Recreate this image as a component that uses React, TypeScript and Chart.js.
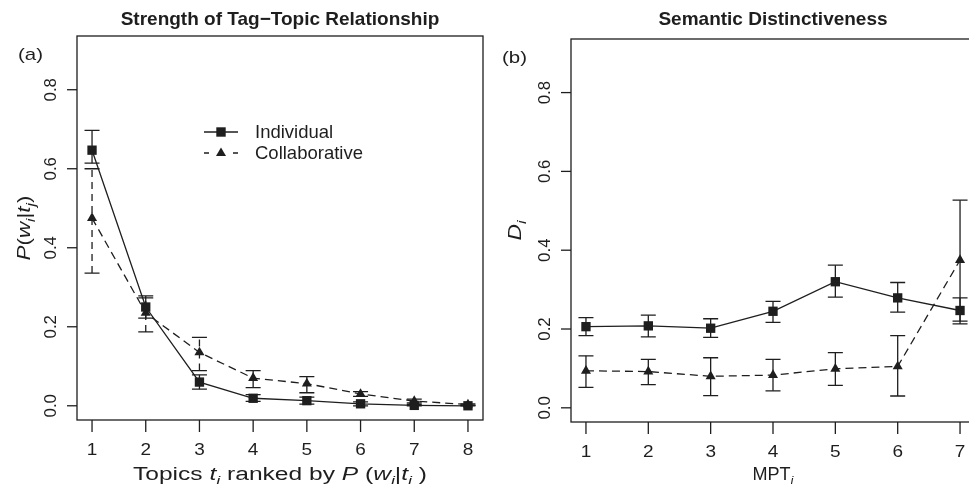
import React, { useEffect, useRef } from "react";
import { Chart, registerables } from "chart.js";

Chart.register(...registerables);

// ---------- Data ----------
const topicRanks = [1, 2, 3, 4, 5, 6, 7, 8];
const indivStrength = [0.647, 0.25, 0.06, 0.019, 0.013, 0.005, 0.001, 0.0];
const indivStrengthLo = [0.614, 0.222, 0.042, 0.011, 0.004, 0.0, 0.0, 0.0];
const indivStrengthHi = [0.697, 0.278, 0.078, 0.028, 0.022, 0.01, 0.003, 0.001];
const collabStrength = [0.475, 0.235, 0.135, 0.07, 0.056, 0.03, 0.012, 0.003];
const collabStrengthLo = [0.336, 0.187, 0.089, 0.046, 0.033, 0.024, 0.007, 0.001];
const collabStrengthHi = [0.6, 0.273, 0.173, 0.089, 0.074, 0.036, 0.017, 0.005];

const mptLevels = [1, 2, 3, 4, 5, 6, 7];
const indivDistinct = [0.206, 0.208, 0.202, 0.245, 0.32, 0.279, 0.247];
const indivDistinctLo = [0.183, 0.18, 0.179, 0.217, 0.281, 0.243, 0.22];
const indivDistinctHi = [0.229, 0.235, 0.226, 0.27, 0.362, 0.318, 0.279];
const collabDistinct = [0.094, 0.092, 0.08, 0.083, 0.099, 0.105, 0.375];
const collabDistinctLo = [0.052, 0.059, 0.031, 0.043, 0.057, 0.03, 0.213];
const collabDistinctHi = [0.132, 0.123, 0.127, 0.123, 0.14, 0.183, 0.527];

const yTickValues = [0.0, 0.2, 0.4, 0.6, 0.8];
const yTickLabels = ["0.0", "0.2", "0.4", "0.6", "0.8"];
const seriesNames = ["Individual", "Collaborative"];

const FONT = '"Liberation Sans", Arial, Helvetica, sans-serif';
const INK = "#1e1e1e";

type Seg = { t: string; it?: boolean; sub?: boolean };

function drawRich(
  ctx: CanvasRenderingContext2D,
  segs: Seg[],
  cx: number,
  cy: number,
  size: number,
  rotate: boolean,
  target?: number,
  sx?: number
) {
  ctx.save();
  ctx.translate(cx, cy);
  if (rotate) ctx.rotate(-Math.PI / 2);
  const fontFor = (s: Seg) =>
    `${s.it ? "italic " : ""}${s.sub ? Math.round(size * 0.72) : size}px ${FONT}`;
  let total = 0;
  const widths = segs.map((s) => {
    ctx.font = fontFor(s);
    const w = ctx.measureText(s.t).width;
    total += w;
    return w;
  });
  const k = target ? target / total : sx || 1;
  ctx.scale(k, 1);
  let x = -total / 2;
  ctx.textAlign = "left";
  ctx.textBaseline = "alphabetic";
  ctx.fillStyle = INK;
  const base = size * 0.358;
  segs.forEach((s, i) => {
    ctx.font = fontFor(s);
    ctx.fillText(s.t, x, base + (s.sub ? size * 0.28 : 0));
    x += widths[i];
  });
  ctx.restore();
}

type PanelCfg = {
  title: string;
  letter: string;
  xs: number[];
  xMin: number;
  xMax: number;
  indiv: number[];
  indivLo: number[];
  indivHi: number[];
  collab: number[];
  collabLo: number[];
  collabHi: number[];
  collabErrDash: number[];
  xLabel: Seg[];
  xLabelWidth: number;
  yLabel: Seg[];
  yLabelWidth: number;
  yLabelOffset: number;
  legend: boolean;
  padding: { left: number; right: number; top: number; bottom: number };
};

function makePlugin(cfg: PanelCfg) {
  return {
    id: "rstyle",
    beforeDatasetsDraw(chart: any) {
      const ctx: CanvasRenderingContext2D = chart.ctx;
      const xs = chart.scales.x;
      const ys = chart.scales.y;
      const bars = [
        { lo: cfg.indivLo, hi: cfg.indivHi, dash: [] as number[] },
        { lo: cfg.collabLo, hi: cfg.collabHi, dash: cfg.collabErrDash },
      ];
      ctx.save();
      ctx.strokeStyle = INK;
      ctx.lineWidth = 1.3;
      bars.forEach((b) => {
        cfg.xs.forEach((xv, i) => {
          const px = xs.getPixelForValue(xv);
          const pLo = ys.getPixelForValue(b.lo[i]);
          const pHi = ys.getPixelForValue(b.hi[i]);
          ctx.setLineDash(b.dash);
          ctx.beginPath();
          ctx.moveTo(px, pLo);
          ctx.lineTo(px, pHi);
          ctx.stroke();
          ctx.setLineDash([]);
          ctx.beginPath();
          ctx.moveTo(px - 7.5, pLo);
          ctx.lineTo(px + 7.5, pLo);
          ctx.moveTo(px - 7.5, pHi);
          ctx.lineTo(px + 7.5, pHi);
          ctx.stroke();
        });
      });
      ctx.restore();
    },
    afterDraw(chart: any) {
      const ctx: CanvasRenderingContext2D = chart.ctx;
      const a = chart.chartArea;
      const xs = chart.scales.x;
      const ys = chart.scales.y;
      ctx.save();
      ctx.strokeStyle = INK;
      ctx.fillStyle = INK;
      ctx.lineWidth = 1.3;
      // box
      ctx.strokeRect(a.left, a.top, a.right - a.left, a.bottom - a.top);
      // y ticks
      yTickValues.forEach((v, i) => {
        const py = ys.getPixelForValue(v);
        ctx.beginPath();
        ctx.moveTo(a.left - 10, py);
        ctx.lineTo(a.left, py);
        ctx.stroke();
        drawRich(ctx, [{ t: yTickLabels[i] }], a.left - 27, py, 16, true, undefined, 1.05);
      });
      // x ticks
      cfg.xs.forEach((v) => {
        const px = xs.getPixelForValue(v);
        ctx.beginPath();
        ctx.moveTo(px, a.bottom);
        ctx.lineTo(px, a.bottom + 12);
        ctx.stroke();
        drawRich(ctx, [{ t: String(v) }], px, a.bottom + 29, 16.5, false, undefined, 1.15);
      });
      const cx = (a.left + a.right) / 2;
      const cy = (a.top + a.bottom) / 2;
      // title
      ctx.save();
      ctx.font = `bold 19px ${FONT}`;
      ctx.textAlign = "center";
      ctx.textBaseline = "middle";
      ctx.fillText(cfg.title, cx, 20);
      ctx.restore();
      // axis labels
      drawRich(ctx, cfg.xLabel, cx, 474, 18, false, cfg.xLabelWidth);
      drawRich(ctx, cfg.yLabel, a.left - cfg.yLabelOffset, cy, 18.5, true, cfg.yLabelWidth);
      // panel letter
      drawRich(ctx, [{ t: cfg.letter }], 30.5, a.top + 18, 17, false, 25);
      // legend
      if (cfg.legend) {
        const rows = [
          { y: 132, style: "rect", name: seriesNames[0] },
          { y: 153, style: "triangle", name: seriesNames[1] },
        ];
        rows.forEach((r) => {
          ctx.beginPath();
          if (r.style === "rect") {
            ctx.moveTo(204, r.y);
            ctx.lineTo(238, r.y);
            ctx.stroke();
            ctx.fillRect(221 - 4.7, r.y - 4.7, 9.4, 9.4);
          } else {
            ctx.moveTo(204, r.y);
            ctx.lineTo(209, r.y);
            ctx.moveTo(233, r.y);
            ctx.lineTo(238, r.y);
            ctx.stroke();
            ctx.beginPath();
            ctx.moveTo(221, r.y - 5.5);
            ctx.lineTo(226, r.y + 3);
            ctx.lineTo(216, r.y + 3);
            ctx.closePath();
            ctx.fill();
          }
          ctx.font = `18.5px ${FONT}`;
          ctx.textAlign = "left";
          ctx.textBaseline = "middle";
          ctx.fillText(r.name, 255, r.y + 1);
        });
      }
      ctx.restore();
    },
  };
}

function Panel({ cfg, left, width }: { cfg: PanelCfg; left: number; width: number }) {
  const ref = useRef<HTMLCanvasElement>(null);
  useEffect(() => {
    const chart = new Chart(ref.current as HTMLCanvasElement, {
      type: "line",
      data: {
        datasets: [
          {
            label: seriesNames[0],
            data: cfg.xs.map((x, i) => ({ x, y: cfg.indiv[i] })),
            borderColor: INK,
            backgroundColor: INK,
            borderWidth: 1.3,
            pointStyle: "rect",
            pointRadius: 6.6,
            pointBackgroundColor: INK,
            pointBorderWidth: 0,
            clip: false,
          } as any,
          {
            label: seriesNames[1],
            data: cfg.xs.map((x, i) => ({ x, y: cfg.collab[i] })),
            borderColor: INK,
            backgroundColor: INK,
            borderWidth: 1.3,
            borderDash: [8, 5],
            pointStyle: "triangle",
            pointRadius: 5.8,
            pointBackgroundColor: INK,
            pointBorderWidth: 0,
            clip: false,
          } as any,
        ],
      },
      options: {
        animation: false,
        responsive: false,
        events: [],
        layout: { padding: cfg.padding },
        plugins: { legend: { display: false }, tooltip: { enabled: false } },
        scales: {
          x: { type: "linear", display: false, min: cfg.xMin, max: cfg.xMax },
          y: { type: "linear", display: false, min: -0.036, max: 0.936 },
        },
      },
      plugins: [makePlugin(cfg)],
    });
    return () => chart.destroy();
  }, []);
  return (
    <canvas
      ref={ref}
      width={width}
      height={484}
      style={{ position: "absolute", left, top: 0, display: "block" }}
    />
  );
}

const leftCfg: PanelCfg = {
  title: "Strength of Tag\u2212Topic Relationship",
  letter: "(a)",
  xs: topicRanks,
  xMin: 0.72,
  xMax: 8.28,
  indiv: indivStrength,
  indivLo: indivStrengthLo,
  indivHi: indivStrengthHi,
  collab: collabStrength,
  collabLo: collabStrengthLo,
  collabHi: collabStrengthHi,
  collabErrDash: [7, 5],
  xLabel: [
    { t: "Topics " },
    { t: "t", it: true },
    { t: "i", it: true, sub: true },
    { t: " ranked by " },
    { t: "P", it: true },
    { t: " (" },
    { t: "w", it: true },
    { t: "i", it: true, sub: true },
    { t: "|" },
    { t: "t", it: true },
    { t: "i", it: true, sub: true },
    { t: " )" },
  ],
  xLabelWidth: 294,
  yLabel: [
    { t: "P", it: true },
    { t: "(" },
    { t: "w", it: true },
    { t: "i", it: true, sub: true },
    { t: "|" },
    { t: "t", it: true },
    { t: "j", it: true, sub: true },
    { t: ")" },
  ],
  yLabelWidth: 65,
  yLabelOffset: 54,
  legend: true,
  padding: { left: 77, right: 7, top: 36, bottom: 64 },
};

const rightCfg: PanelCfg = {
  title: "Semantic Distinctiveness",
  letter: "(b)",
  xs: mptLevels,
  xMin: 0.76,
  xMax: 7.24,
  indiv: indivDistinct,
  indivLo: indivDistinctLo,
  indivHi: indivDistinctHi,
  collab: collabDistinct,
  collabLo: collabDistinctLo,
  collabHi: collabDistinctHi,
  collabErrDash: [],
  xLabel: [{ t: "MPT" }, { t: "i", it: true, sub: true }],
  xLabelWidth: 41,
  yLabel: [{ t: "D", it: true }, { t: "i", it: true, sub: true }],
  yLabelWidth: 20,
  yLabelOffset: 57,
  legend: false,
  padding: { left: 87, right: 9, top: 39, bottom: 62 },
};

export default function App() {
  useEffect(() => {
    document.body.style.margin = "0";
  }, []);
  return (
    <div
      style={{
        position: "relative",
        width: 969,
        height: 484,
        overflow: "hidden",
        background: "#ffffff",
      }}
    >
      <Panel cfg={leftCfg} left={0} width={490} />
      <Panel cfg={rightCfg} left={484} width={500} />
    </div>
  );
}
